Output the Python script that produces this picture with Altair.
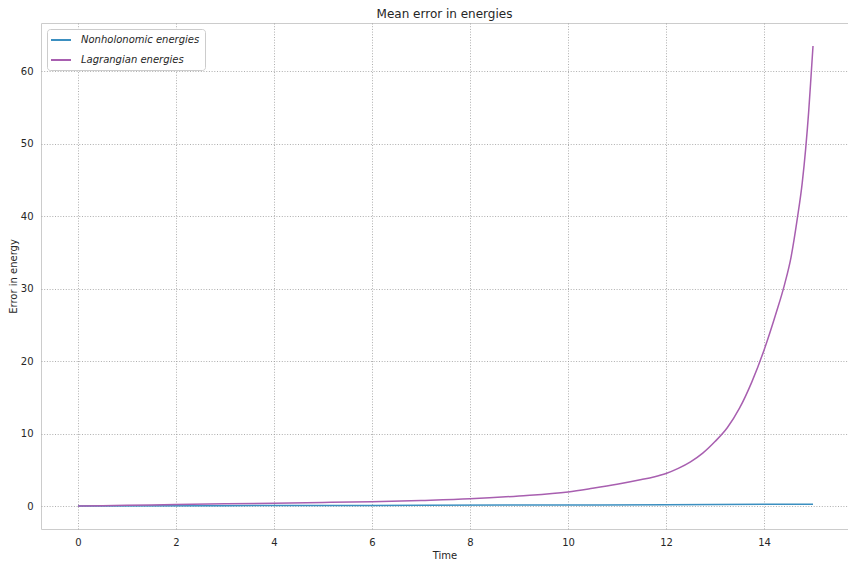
import altair as alt
import pandas as pd

# Lagrangian energies error
lag_t = [0, 1, 2, 3, 4, 5, 6, 7, 8, 9, 10, 10.5, 11, 11.5, 11.75, 12, 12.25, 12.5, 12.75,
         13.0, 13.25, 13.5, 13.75, 14.0, 14.25, 14.42, 14.55, 14.68, 14.78, 14.85, 14.91,
         14.95, 15.0]
lag_v = [0.0, 0.1, 0.2, 0.3, 0.4, 0.5, 0.59, 0.77, 1.0, 1.4, 1.95, 2.45, 3.0, 3.65, 4.02,
         4.5, 5.2, 6.1, 7.3, 8.9, 10.8, 13.5, 17.1, 21.5, 26.7, 30.6, 34.3, 39.7, 44.6,
         49.3, 54.3, 58.3, 63.5]

# Nonholonomic energies error
non_t = [0, 3, 6, 9, 12, 15]
non_v = [0.0, 0.05, 0.09, 0.13, 0.18, 0.26]

series_names = ["Nonholonomic energies", "Lagrangian energies"]
series_colors = ["#3b8fc0", "#a85fb0"]

x_ticks = [0, 2, 4, 6, 8, 10, 12, 14]
y_ticks = [0, 10, 20, 30, 40, 50, 60]

df = pd.concat([
    pd.DataFrame({"t": non_t, "v": non_v, "series": series_names[0]}),
    pd.DataFrame({"t": lag_t, "v": lag_v, "series": series_names[1]}),
])

font = "DejaVu Sans"

chart = alt.Chart(df).mark_line(strokeWidth=1.5, interpolate="monotone").encode(
    x=alt.X("t:Q", title="Time",
            scale=alt.Scale(domain=[-0.755, 15.714], nice=False, zero=False),
            axis=alt.Axis(values=x_ticks, format="d")),
    y=alt.Y("v:Q", title="Error in energy",
            scale=alt.Scale(domain=[-3.17, 66.67], nice=False, zero=False),
            axis=alt.Axis(values=y_ticks, format="d")),
    color=alt.Color("series:N", sort=series_names,
                    scale=alt.Scale(domain=series_names, range=series_colors),
                    legend=alt.Legend(title=None, orient="none", legendX=6, legendY=6,
                                      symbolType="M-1.4,0H2.6", symbolStrokeWidth=2,
                                      symbolSize=100, labelFontStyle="italic",
                                      labelFontSize=10, labelFont=font, labelOffset=17,
                                      labelColor="#262626", rowPadding=9,
                                      strokeColor="#cccccc", fillColor="white",
                                      cornerRadius=3, padding=5)),
).properties(
    width=807, height=506,
    title=alt.Title("Mean error in energies", fontSize=12, font=font,
                    fontWeight="normal", color="#262626", offset=2),
    autosize=alt.AutoSizeParams(type="none"),
    padding={"left": 33, "top": 15, "right": 0, "bottom": 31},
).configure_view(
    stroke="#cccccc", strokeWidth=1,
).configure_axis(
    grid=True, gridColor="#999999", gridDash=[1, 1.7], gridWidth=0.8,
    domain=False, ticks=False, labelPadding=8,
    labelFont=font, labelFontSize=10, labelColor="#262626",
    titleFont=font, titleFontSize=10, titleFontWeight="normal", titleColor="#262626",
).configure_axisX(titlePadding=3).configure_axisY(titlePadding=2)

chart.save("out.html", embed_options={"renderer": "svg", "actions": False})
